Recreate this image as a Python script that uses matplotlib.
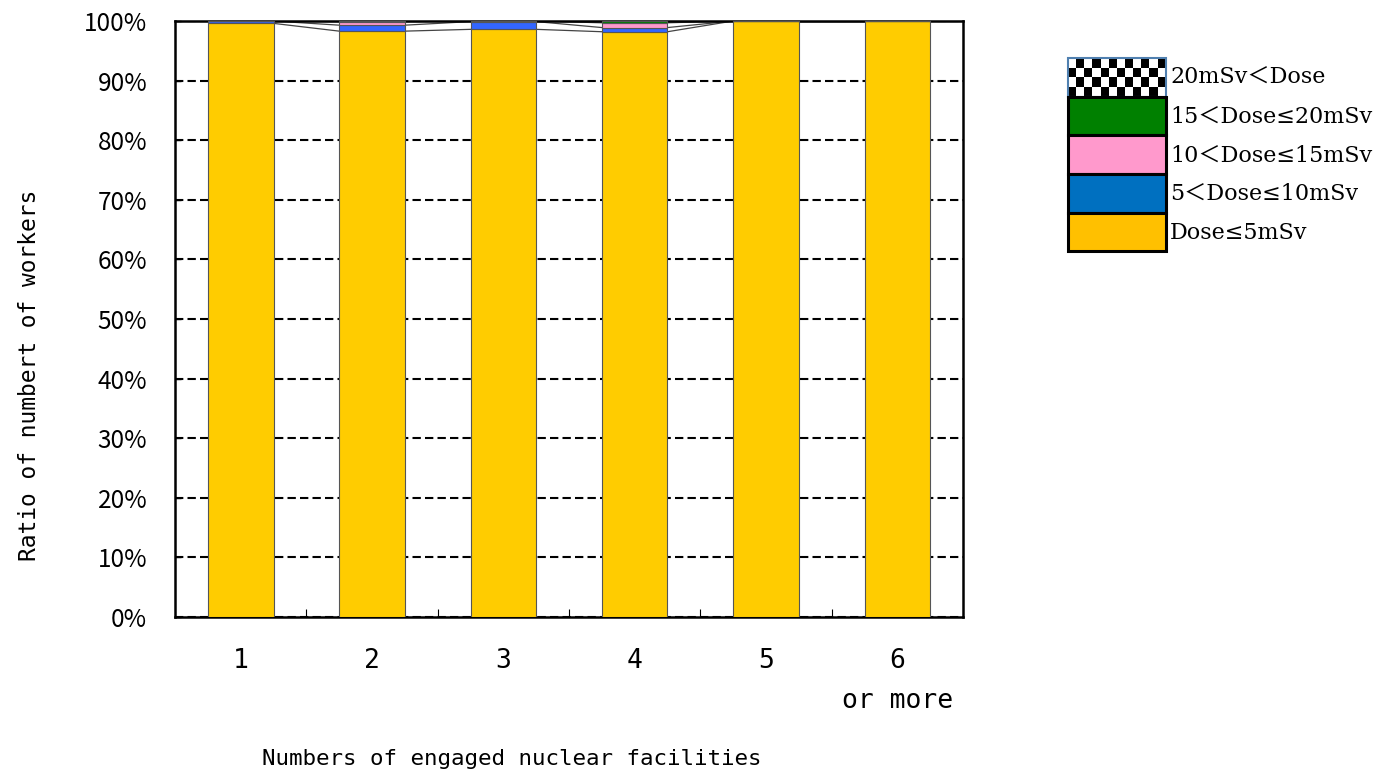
import matplotlib
matplotlib.use('Agg')
import matplotlib.pyplot as plt
from matplotlib.patches import Patch, Rectangle
from matplotlib.legend_handler import HandlerBase

# share of workers (%) per dose band, by number of engaged facilities
categories = ['1', '2', '3', '4', '5', '6\nor more']
dose_le5 = [99.6, 98.3, 98.6, 98.2, 100.0, 100.0]
dose_5_10 = [0.4, 1.0, 1.3, 0.7, 0.0, 0.0]
dose_10_15 = [0.0, 0.6, 0.1, 0.8, 0.0, 0.0]
dose_15_20 = [0.0, 0.1, 0.0, 0.3, 0.0, 0.0]
dose_gt20 = [0.0, 0.0, 0.0, 0.0, 0.0, 0.0]

labels = ['Dose≤5mSv', '5＜Dose≤10mSv', '10＜Dose≤15mSv', '15＜Dose≤20mSv', '20mSv＜Dose']
bar_colors = ['#FFCC00', '#3366FF', '#FF99CC', '#008000', 'white']
legend_colors = ['#FFC000', '#0070C0', '#FF99CC', '#008000', 'white']

series = [dose_le5, dose_5_10, dose_10_15, dose_15_20, dose_gt20]


class CheckerHandler(HandlerBase):
    def create_artists(self, legend, orig_handle, xdescent, ydescent,
                       width, height, fontsize, trans):
        x0, y0 = -xdescent, -ydescent
        arts = [Rectangle((x0, y0), width, height, facecolor='white',
                          edgecolor='none', transform=trans)]
        nx, ny = 12, 4
        cw, ch = width / nx, height / ny
        for i in range(nx):
            for j in range(ny):
                if (i + j) % 2 == 0:
                    arts.append(Rectangle((x0 + i * cw, y0 + j * ch), cw, ch,
                                          facecolor='black', edgecolor='none',
                                          transform=trans))
        arts.append(Rectangle((x0, y0), width, height, fill=False,
                              edgecolor='#5080B0', lw=1.5, transform=trans))
        return arts


fig = plt.figure(figsize=(13.84, 7.75), dpi=100)
ax = fig.add_axes([175 / 1384, 1 - 617 / 775, 788 / 1384, 596 / 775])

x = list(range(len(categories)))
w = 0.5
bottom = [0.0] * len(x)
tops = []
for vals, col in zip(series, bar_colors):
    ax.bar(x, vals, width=w, bottom=bottom, color=col, edgecolor='#555555',
           linewidth=0.8, zorder=3)
    bottom = [b + v for b, v in zip(bottom, vals)]
    tops.append(list(bottom))

# series lines between neighbouring bars
for lev in tops[:-1]:
    for i in range(len(x) - 1):
        ax.plot([x[i] + w / 2, x[i + 1] - w / 2], [lev[i], lev[i + 1]],
                color='#444444', lw=0.9, zorder=2)

ax.set_xlim(-0.5, len(x) - 0.5)
ax.set_ylim(0, 100)
ax.set_yticks(range(0, 101, 10))
ax.set_yticklabels([f'{v}%' for v in range(0, 101, 10)],
                   fontfamily='Noto Sans CJK JP', fontsize=17.5)
ax.tick_params(axis='y', direction='in', length=4, width=1, pad=20)

ax.set_xticks(x)
ax.set_xticklabels(categories, fontfamily='DejaVu Sans Mono', fontsize=19,
                   linespacing=1.7, va='top')
ax.tick_params(axis='x', which='major', length=0, pad=22)
ax.set_xticks([i + 0.5 for i in x[:-1]], minor=True)
ax.tick_params(axis='x', which='minor', direction='in', length=6, width=0.8)

ax.yaxis.grid(True, color='black', linestyle=(0, (4, 2)), linewidth=1.5, zorder=1)
ax.set_axisbelow(True)
for s in ax.spines.values():
    s.set_linewidth(1.8)

fig.text(30 / 1384, 1 - 375 / 775, 'Ratio of numbert of workers', rotation=90,
         ha='center', va='center', fontfamily='DejaVu Sans Mono', fontsize=16.5)
fig.text(512 / 1384, 1 - 759 / 775, 'Numbers of engaged nuclear facilities',
         ha='center', va='center', fontfamily='DejaVu Sans Mono', fontsize=16.2)

handles = [Patch(facecolor=c, edgecolor='black', linewidth=2.2) for c in legend_colors[:-1]]
handles.append(Patch(facecolor='white'))
leg = fig.legend(handles[::-1], labels[::-1], loc='upper left',
                 bbox_to_anchor=(1068 / 1384, 1 - 58 / 775), frameon=False,
                 borderpad=0, borderaxespad=0, labelspacing=0,
                 handlelength=4.4, handleheight=2.3, handletextpad=0.2,
                 prop={'family': ['DejaVu Serif', 'Noto Sans CJK JP'],
                       'size': 16},
                 handler_map={handles[-1]: CheckerHandler()})

fig.savefig('out.png', dpi=100)
